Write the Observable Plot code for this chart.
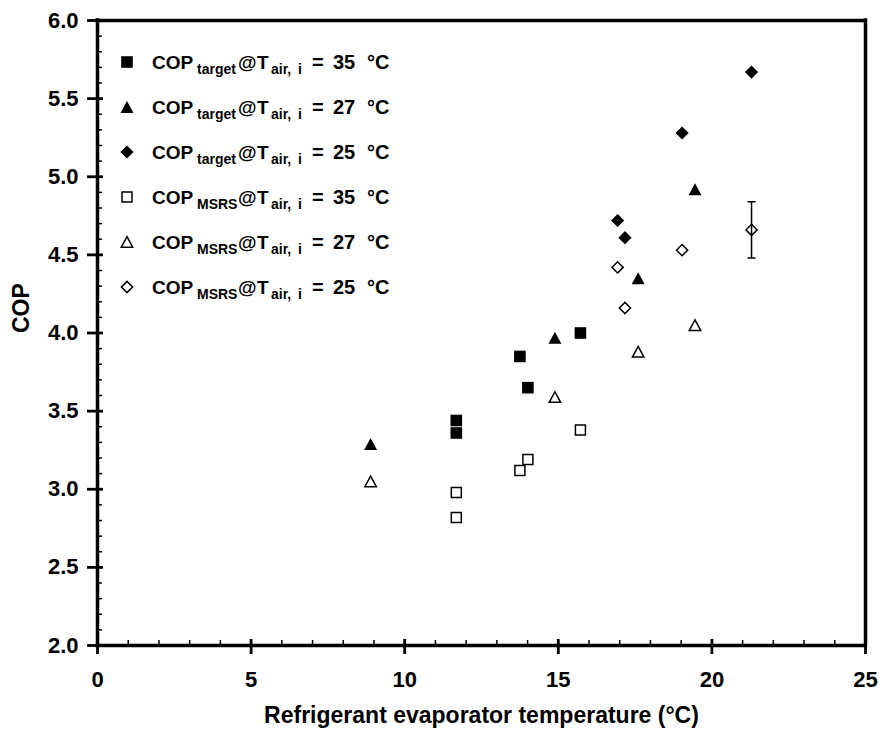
<!DOCTYPE html>
<html>
<head>
<meta charset="utf-8">
<script src="https://cdn.jsdelivr.net/npm/d3@7"></script>
<script src="https://cdn.jsdelivr.net/npm/@observablehq/plot@0.6"></script>
<style>
  html, body { margin: 0; padding: 0; background: #fff; overflow: hidden; }
  svg { display: block; }
</style>
</head>
<body>
<div id="chart"></div>
<script>
// ---- data ----
const evapT35 = [11.68, 11.68, 13.75, 14.01, 15.72];
const copTarget35 = [3.44, 3.36, 3.85, 3.65, 4.00];
const copMSRS35 = [2.98, 2.82, 3.12, 3.19, 3.38];

const evapT27 = [8.89, 14.89, 17.60, 19.45];
const copTarget27 = [3.29, 3.97, 4.35, 4.92];
const copMSRS27 = [3.05, 3.59, 3.88, 4.05];

const evapT25 = [16.93, 17.17, 19.03, 21.29];
const copTarget25 = [4.72, 4.61, 5.28, 5.67];
const copMSRS25 = [4.42, 4.16, 4.53, 4.66];

const errX = [21.29];
const errLow = [4.48];
const errHigh = [4.84];

const xDomain = [0, 25];
const yDomain = [2, 6];
const xMajor = [0, 5, 10, 15, 20, 25];
const xMinor = d3.range(0, 26, 1);
const yMajor = [2.0, 2.5, 3.0, 3.5, 4.0, 4.5, 5.0, 5.5, 6.0];
const yMinor = d3.range(20, 61, 1).map(d => d / 10);

const legendSubs = ["target", "target", "target", "MSRS", "MSRS", "MSRS"];
const legendTemps = ["35", "27", "25", "35", "27", "25"];

// ---- layout ----
const W = 881, H = 739;
const mL = 97, mR = 16, mT = 20, mB = 94;
const frameW = W - mL - mR, frameH = H - mT - mB;

// ---- custom symbols ----
const sqSym = {draw(ctx, size) { const r = Math.sqrt(size / Math.PI); ctx.rect(-r, -r, 2 * r, 2 * r); }};
const triSym = {draw(ctx, size) { const r = Math.sqrt(size / Math.PI); ctx.moveTo(0, -r); ctx.lineTo(1.08 * r, r); ctx.lineTo(-1.08 * r, r); ctx.closePath(); }};
const diaSym = {draw(ctx, size) { const r = Math.sqrt(size / Math.PI); ctx.moveTo(0, -r); ctx.lineTo(r, 0); ctx.lineTo(0, r); ctx.lineTo(-r, 0); ctx.closePath(); }};
const capSym = {draw(ctx, size) { const r = Math.sqrt(size / Math.PI); ctx.moveTo(-r, 0); ctx.lineTo(r, 0); }};

const styles = [
  {sym: sqSym, r: 5.8, fill: "black", stroke: "none", sw: 0},
  {sym: triSym, r: 6, fill: "black", stroke: "none", sw: 0},
  {sym: diaSym, r: 6.6, fill: "black", stroke: "none", sw: 0},
  {sym: sqSym, r: 5, fill: "none", stroke: "black", sw: 1.5},
  {sym: triSym, r: 5.3, fill: "none", stroke: "black", sw: 1.5},
  {sym: diaSym, r: 5.6, fill: "none", stroke: "black", sw: 1.5}
];

const zip = (xs, ys) => xs.map((x, i) => ({x, y: ys[i]}));
const series = [
  zip(evapT35, copTarget35),
  zip(evapT27, copTarget27),
  zip(evapT25, copTarget25),
  zip(evapT35, copMSRS35),
  zip(evapT27, copMSRS27),
  zip(evapT25, copMSRS25)
];
const errData = errX.map((x, i) => ({x, lo: errLow[i], hi: errHigh[i]}));

const FONT = "'Liberation Sans', Arial, Helvetica, sans-serif";

const chart = Plot.plot({
  width: W,
  height: H,
  marginLeft: mL,
  marginRight: mR,
  marginTop: mT,
  marginBottom: mB,
  x: {domain: xDomain},
  y: {domain: yDomain},
  style: {fontFamily: FONT, background: "white", color: "black"},
  marks: [
    // minor ticks (inside)
    Plot.tickY(yMinor, {y: d => d, stroke: "black", strokeWidth: 1.5, insetLeft: 0, insetRight: frameW - 5}),
    Plot.tickX(xMinor, {x: d => d, stroke: "black", strokeWidth: 1.5, insetTop: frameH - 5, insetBottom: 0}),
    // major ticks (crossing the axis line)
    Plot.tickY(yMajor, {y: d => d, stroke: "black", strokeWidth: 2.8, insetLeft: -10, insetRight: frameW - 6}),
    Plot.tickX(xMajor, {x: d => d, stroke: "black", strokeWidth: 2.8, insetTop: frameH - 6, insetBottom: -9}),
    // tick labels
    Plot.axisY({ticks: yMajor, tickSize: 0, tickPadding: 19, tickFormat: d3.format(".1f"), fontSize: 22, fontWeight: "bold", label: null}),
    Plot.axisX({ticks: xMajor, tickSize: 0, tickPadding: 26, tickFormat: d3.format("d"), fontSize: 22, fontWeight: "bold", label: null}),
    // frame lines
    Plot.ruleX(xDomain, {x: d => d, stroke: "black", strokeWidth: 3.5, strokeLinecap: "square"}),
    Plot.ruleY(yDomain, {y: d => d, stroke: "black", strokeWidth: 3.5, strokeLinecap: "square"}),
    // axis titles
    Plot.text(["Refrigerant evaporator temperature (°C)"], {text: d => d, frameAnchor: "bottom", dy: 77, fontSize: 23, fontWeight: "bold", fill: "black"}),
    Plot.text(["COP"], {text: d => d, frameAnchor: "left", dx: -76, rotate: -90, fontSize: 23, fontWeight: "bold", fill: "black"}),
    // error bar
    Plot.ruleX(errData, {x: "x", y1: "lo", y2: "hi", stroke: "black", strokeWidth: 1.5}),
    Plot.dot(errData, {x: "x", y: "lo", symbol: capSym, r: 4, stroke: "black", strokeWidth: 1.5, fill: "none"}),
    Plot.dot(errData, {x: "x", y: "hi", symbol: capSym, r: 4, stroke: "black", strokeWidth: 1.5, fill: "none"}),
    // series
    ...series.map((data, i) => Plot.dot(data, {
      x: "x", y: "y", symbol: styles[i].sym, r: styles[i].r,
      fill: styles[i].fill, stroke: styles[i].stroke, strokeWidth: styles[i].sw
    }))
  ]
});

document.getElementById("chart").appendChild(chart);

// ---- legend (inside the plot, top-left) ----
const svg = d3.select(chart);
const lg = svg.append("g").attr("class", "legend")
  .attr("font-family", FONT).attr("font-weight", "bold").attr("fill", "black")
  .attr("text-anchor", "start");
legendSubs.forEach((sub, i) => {
  const cy = 62 + 45 * i;
  const st = styles[i];
  lg.append("path")
    .attr("transform", `translate(127,${cy})`)
    .attr("d", d3.symbol().type(st.sym).size(Math.PI * st.r * st.r)())
    .attr("fill", st.fill)
    .attr("stroke", st.stroke)
    .attr("stroke-width", st.sw);
  const base = cy + 7;
  const t = lg.append("text").attr("y", base).attr("font-size", 19).attr("text-anchor", "start");
  t.append("tspan").attr("x", 152).attr("y", base).text("COP");
  t.append("tspan").attr("x", 197).attr("y", base + 5).attr("font-size", 14).text(sub);
  t.append("tspan").attr("x", 238).attr("y", base).text("@");
  t.append("tspan").attr("x", 257).attr("y", base).text("T");
  t.append("tspan").attr("x", 271).attr("y", base + 5).attr("font-size", 14).text("air,");
  t.append("tspan").attr("x", 298).attr("y", base + 5).attr("font-size", 14).text("i");
  t.append("tspan").attr("x", 312).attr("y", base).attr("font-size", 20).text("=");
  t.append("tspan").attr("x", 333).attr("y", base).attr("font-size", 20).text(legendTemps[i]);
  t.append("tspan").attr("x", 367).attr("y", base).attr("font-size", 20).text("°C");
});
</script>
</body>
</html>
